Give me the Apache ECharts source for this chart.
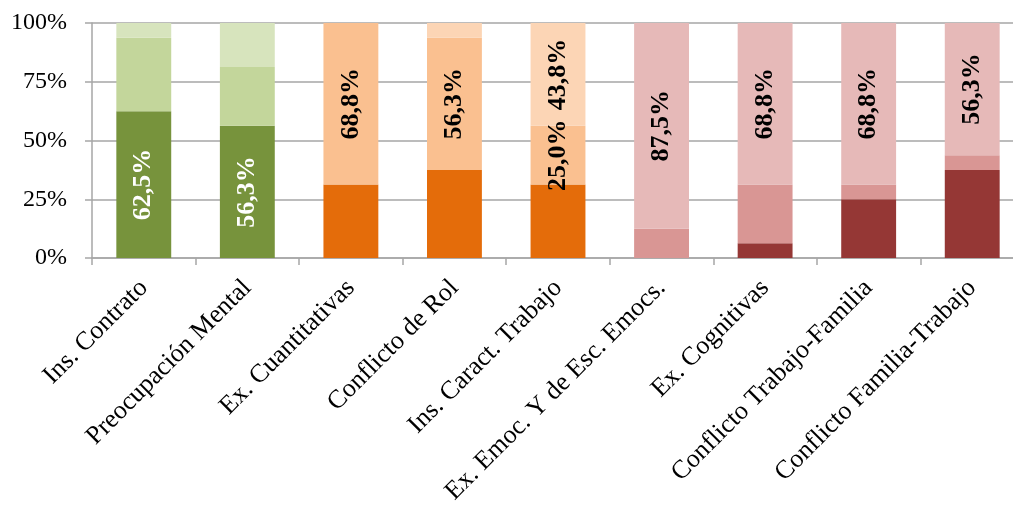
<!DOCTYPE html>
<html>
<head>
<meta charset="utf-8">
<script src="https://cdn.jsdelivr.net/npm/echarts@6/dist/echarts.min.js"></script>
<style>
  html, body { margin: 0; padding: 0; background: #fff; }
  #chart { width: 1013px; height: 506px; }
</style>
</head>
<body>
<div id="chart"></div>
<script>
const categories = ['Ins. Contrato', 'Preocupación Mental', 'Ex. Cuantitativas', 'Conflicto de Rol',
  'Ins. Caract. Trabajo', 'Ex. Emoc. Y de Esc. Emocs.', 'Ex. Cognitivas',
  'Conflicto Trabajo-Familia', 'Conflicto Familia-Trabajo']
const darkVals = [62.5, 56.25, 31.25, 37.5, 31.25, 0, 6.25, 25, 37.5]
const midVals = [31.25, 25, 68.75, 56.25, 25, 12.5, 25, 6.25, 6.25]
const lightVals = [6.25, 18.75, 0, 6.25, 43.75, 87.5, 68.75, 68.75, 56.25]
const groups = ['green', 'green', 'orange', 'orange', 'orange', 'red', 'red', 'red', 'red']
// which segments carry a value label
const darkLabeled = [1, 1, 0, 0, 0, 0, 0, 0, 0]
const midLabeled = [0, 0, 1, 1, 1, 0, 0, 0, 0]
const lightLabeled = [0, 0, 0, 0, 1, 1, 1, 1, 1]
const yTicks = [0, 25, 50, 75, 100]

const palette = {
  green: ['#77933C', '#C3D69B', '#D7E4BD'],
  orange: ['#E46C0A', '#FAC090', '#FCD5B5'],
  red: ['#953735', '#D99694', '#E6B9B8']
}

const fmt = v => v.toFixed(1).replace('.', ',') + '%'

function buildSeries(name, vals, flags, shade) {
  return {
    name: name,
    type: 'bar',
    stack: 'total',
    barWidth: '53%',
    data: vals.map((v, i) => ({
      value: v,
      itemStyle: { color: palette[groups[i]][shade] },
      label: {
        show: !!flags[i],
        position: 'inside',
        rotate: 90,
        formatter: p => fmt(p.value),
        fontFamily: 'Liberation Serif',
        fontWeight: 'bold',
        fontSize: 26,
        color: (shade === 0 && groups[i] === 'green') ? '#fff' : '#000'
      }
    }))
  }
}

const myChart = echarts.init(document.getElementById('chart'), null, { renderer: 'canvas' })
myChart.setOption({
  animation: false,
  grid: { left: 92, top: 23, bottom: 248, right: -11, outerBoundsMode: 'none', containLabel: false },
  xAxis: {
    type: 'category',
    data: categories,
    axisLine: { lineStyle: { color: '#A6A6A6', width: 1.5 } },
    axisTick: { show: true, length: 7, lineStyle: { color: '#A6A6A6', width: 1.5 } },
    axisLabel: {
      interval: 0,
      rotate: 45,
      margin: 26,
      fontFamily: 'Liberation Serif',
      fontSize: 26,
      color: '#000'
    }
  },
  yAxis: {
    type: 'value',
    min: yTicks[0],
    max: yTicks[yTicks.length - 1],
    interval: 25,
    axisLine: { show: true, lineStyle: { color: '#A6A6A6', width: 1.5 } },
    axisTick: { show: true, length: 7, lineStyle: { color: '#A6A6A6', width: 1.5 } },
    splitLine: { lineStyle: { color: '#A6A6A6', width: 1.5 } },
    axisLabel: {
      margin: 25,
      formatter: '{value}%',
      fontFamily: 'Liberation Serif',
      fontSize: 24,
      color: '#000'
    }
  },
  series: [
    buildSeries('dark', darkVals, darkLabeled, 0),
    buildSeries('mid', midVals, midLabeled, 1),
    buildSeries('light', lightVals, lightLabeled, 2)
  ]
})
</script>
</body>
</html>
